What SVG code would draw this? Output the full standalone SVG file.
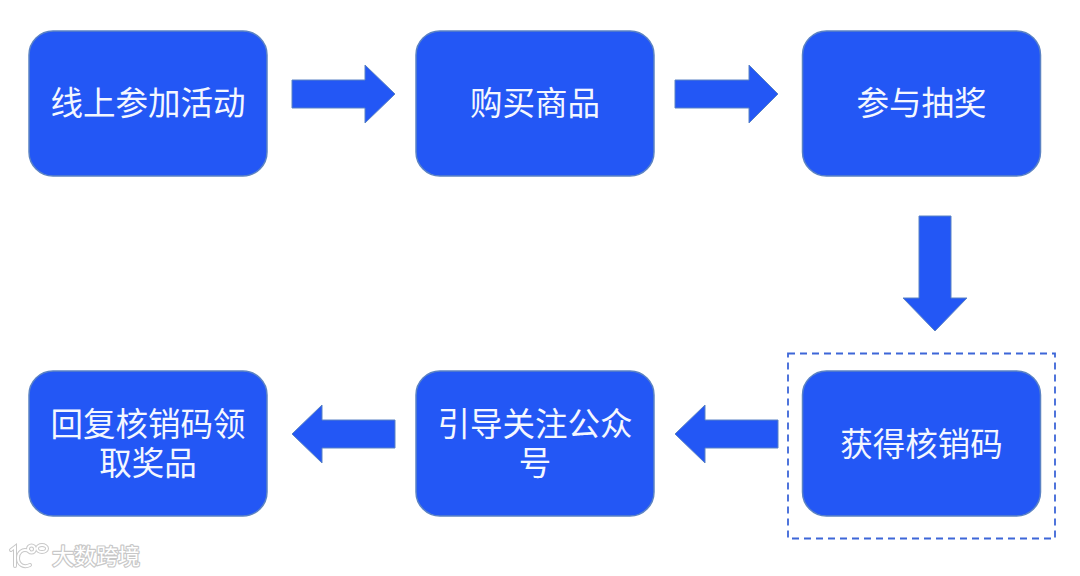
<svg xmlns="http://www.w3.org/2000/svg" width="1080" height="576" viewBox="0 0 1080 576">
<style>
.box{fill:#2357f5;stroke:#5b83c4;stroke-width:1.5}
.arrow{fill:#2357f5;stroke:#5b83c4;stroke-width:1}
.label{font-family:"Noto Sans CJK SC","Noto Sans",sans-serif;font-size:32.5px;fill:#f4f7ff;text-anchor:middle}
.wm{font-family:"Noto Sans CJK SC",sans-serif;font-size:22px;fill:#fff;stroke:#c8c8c8;stroke-width:2.4;paint-order:stroke;stroke-linejoin:round}
.logo{fill:none;stroke:#c8c8c8;stroke-width:4;stroke-linecap:round}
.logoIn{fill:none;stroke:#fff;stroke-width:2;stroke-linecap:round}
</style>
<rect width="1080" height="576" fill="#fff"/>
<g id="connectors">
<polygon class="arrow" points="292,80 365,80 365,65 395,94 365,123 365,108 292,108"/>
<polygon class="arrow" points="675,80 749,80 749,65 778,94 749,123 749,108 675,108"/>
<polygon class="arrow" points="919,216 951,216 951,298 967,298 935,331 903,298 919,298"/>
<polygon class="arrow" points="778,420 705,420 705,405 675,434 705,463 705,448 778,448"/>
<polygon class="arrow" points="395,420 322,420 322,405 292,434 322,463 322,448 395,448"/>
</g>
<g id="node-1"><rect class="box" x="29" y="31" width="238" height="145" rx="24"/><text class="label" x="148" y="115">线上参加活动</text></g>
<g id="node-2"><rect class="box" x="416" y="31" width="238" height="145" rx="24"/><text class="label" x="535" y="115">购买商品</text></g>
<g id="node-3"><rect class="box" x="802.500" y="31" width="238" height="145" rx="24"/><text class="label" x="921.500" y="115">参与抽奖</text></g>
<g id="highlight"><rect x="788" y="353.500" width="267" height="185" fill="none" stroke="#3d66d8" stroke-width="1.800" stroke-dasharray="7 5"/></g>
<g id="node-4"><rect class="box" x="802.500" y="371" width="238" height="145" rx="24"/><text class="label" x="921.500" y="456">获得核销码</text></g>
<g id="node-5"><rect class="box" x="416" y="371" width="238" height="145" rx="24"/><text class="label" x="535" y="436">引导关注公众<tspan x="535" dy="39">号</tspan></text></g>
<g id="node-6"><rect class="box" x="29" y="371" width="238" height="145" rx="24"/><text class="label" x="148" y="436">回复核销码领<tspan x="148" dy="39">取奖品</tspan></text></g>
<g id="watermark">
<path class="logo" d="M11 550L15 547V566M29 551C22 548 18 553 18 558C18 565 24 568 30 565"/>
<circle class="logo" cx="31.500" cy="549" r="3.500"/><ellipse class="logo" cx="42" cy="548.500" rx="5" ry="3.500"/>
<path class="logoIn" d="M11 550L15 547V566M29 551C22 548 18 553 18 558C18 565 24 568 30 565"/>
<circle class="logoIn" cx="31.500" cy="549" r="3.500"/><ellipse class="logoIn" cx="42" cy="548.500" rx="5" ry="3.500"/>
<text class="wm" x="52" y="564">大数跨境</text>
</g>
</svg>
